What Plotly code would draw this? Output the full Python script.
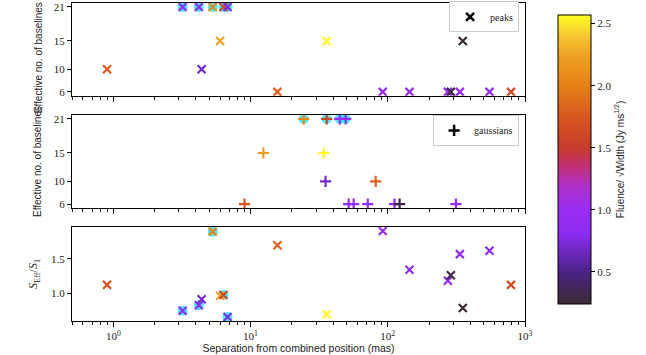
import plotly.graph_objects as go
from plotly.subplots import make_subplots

# peaks (x markers): separation (mas), effective no. of baselines, S_eff/S_1, fluence/sqrt(width)
peak_sep = [0.9, 3.2, 4.2, 4.4, 5.3, 6.0, 6.35, 6.8, 15.7, 35.9, 91.9, 144, 274, 288, 335, 352, 551, 790]
peak_nbl = [10, 21, 21, 10, 21, 15, 21, 21, 6, 15, 6, 6, 6, 6, 6, 15, 6, 6]
peak_ratio = [1.12, 0.74, 0.82, 0.91, 1.90, 0.96, 0.97, 0.65, 1.70, 0.69, 1.91, 1.34, 1.18, 1.26, 1.57, 0.78, 1.62, 1.12]
peak_flu = [1.75, 0.9, 0.9, 0.7, 2.05, 2.25, 1.6, 0.75, 1.8, 2.55, 0.95, 0.9, 0.95, 0.3, 0.9, 0.25, 0.9, 1.65]
peak_ring = [False, True, True, False, True, False, True, True, False, False, False, False, False, False, False, False, False, False]

# gaussians (+ markers)
gaus_sep = [9.04, 12.4, 24.4, 34.1, 35.2, 35.9, 44.7, 49.4, 51.9, 56.4, 71.5, 81.7, 112, 122, 314]
gaus_nbl = [6, 15, 21, 15, 10, 21, 21, 21, 6, 6, 6, 10, 6, 6, 6]
gaus_flu = [1.75, 2.2, 2.05, 2.55, 0.7, 1.6, 0.9, 0.9, 0.9, 0.9, 0.95, 1.8, 0.9, 0.3, 0.9]
gaus_ring = [False, False, True, False, False, True, True, True, False, False, False, False, False, False, False]

cscale = [
    [0.00, '#3a2c32'], [0.11, '#4b2284'], [0.24, '#8a2cf0'], [0.33, '#9a2ef2'],
    [0.41, '#b030c8'], [0.48, '#c03070'], [0.54, '#c63c2c'], [0.65, '#d85820'],
    [0.755, '#e68018'], [0.86, '#eea224'], [0.93, '#f4c830'], [1.00, '#ffff22'],
]
ring_col = 'rgba(40,235,255,0.85)'
serif = 'Liberation Serif'
sans = 'Liberation Sans'

fig = make_subplots(rows=3, cols=1, shared_xaxes=True)


def rings(sep, yv, flags, row):
    xs = [s for s, f in zip(sep, flags) if f]
    ys = [v for v, f in zip(yv, flags) if f]
    fig.add_trace(go.Scatter(x=xs, y=ys, mode='markers', showlegend=False, hoverinfo='skip',
                             marker=dict(symbol='circle', size=10, color=ring_col)), row=row, col=1)


def marks(sep, yv, flu, sym, row):
    fig.add_trace(go.Scatter(x=sep, y=yv, mode='markers', showlegend=False,
                             marker=dict(symbol=sym, size=8, color='rgba(0,0,0,0)',
                                         line=dict(width=2.2, color=flu, coloraxis='coloraxis'))),
                  row=row, col=1)


rings(peak_sep, peak_nbl, peak_ring, 1)
marks(peak_sep, peak_nbl, peak_flu, 'x-thin', 1)
rings(gaus_sep, gaus_nbl, gaus_ring, 2)
marks(gaus_sep, gaus_nbl, gaus_flu, 'cross-thin', 2)
rings(peak_sep, peak_ratio, peak_ring, 3)
marks(peak_sep, peak_ratio, peak_flu, 'x-thin', 3)

# legend entries
fig.add_trace(go.Scatter(x=[None], y=[None], mode='markers', name='peaks', legend='legend',
                         marker=dict(symbol='x-thin', size=8, line=dict(width=2.5, color='black'))), row=1, col=1)
fig.add_trace(go.Scatter(x=[None], y=[None], mode='markers', name='gaussians', legend='legend2',
                         marker=dict(symbol='cross-thin', size=8, line=dict(width=2.5, color='black'))), row=2, col=1)

minor_vals = [m * 10 ** e for e in range(-1, 3) for m in range(2, 10) if 0.5 <= m * 10 ** e <= 1000]
xcommon = dict(type='log', range=[-0.30103, 3.0], showgrid=False, zeroline=False,
               showline=True, linecolor='black', linewidth=1, mirror=True,
               ticks='outside', ticklen=5, tickcolor='black',
               tickvals=[1, 10, 100, 1000],
               minor=dict(tickvals=minor_vals, ticks='outside', ticklen=3, tickcolor='black'),
               tickfont=dict(family=serif, size=11, color='#222'))
ycommon = dict(showgrid=False, zeroline=False, showline=True, linecolor='black', linewidth=1,
               mirror=True, ticks='outside', ticklen=4, tickcolor='black',
               tickfont=dict(family=serif, size=11, color='#222'))

fig.update_xaxes(**xcommon)
fig.update_xaxes(showticklabels=False, row=1, col=1)
fig.update_xaxes(showticklabels=False, row=2, col=1)
fig.update_xaxes(ticktext=['10<sup>0</sup>', '10<sup>1</sup>', '10<sup>2</sup>', '10<sup>3</sup>'],
                 showticklabels=True,
                 title=dict(text='Separation from combined position (mas)', standoff=2,
                            font=dict(family=sans, size=10.5, color='#222')), row=3, col=1)

fig.update_yaxes(**ycommon)
fig.update_yaxes(range=[5.3, 21.7], tickvals=[6, 10, 15, 21], domain=[0.708, 1.0], row=1, col=1)
fig.update_yaxes(range=[5.3, 21.7], tickvals=[6, 10, 15, 21], domain=[0.355, 0.648],
                 title=dict(text='Effective no. of baselines', standoff=10,
                            font=dict(family=sans, size=10, color='#222')), row=2, col=1)
fig.update_yaxes(range=[0.59, 1.97], tickvals=[1.0, 1.5], ticktext=['1.0', '1.5'], domain=[0.0, 0.296],
                 title=dict(text='<i>S</i><sub>Eff</sub>/<i>S</i><sub>1</sub>', standoff=10,
                            font=dict(family=serif, size=12, color='#222')), row=3, col=1)

# top panel's y title: the panel is shorter than the text, so pin it to the figure top
fig.add_annotation(text='Effective no. of baselines', textangle=-90, showarrow=False,
                   xref='paper', yref='paper', x=-0.0735, y=1.0094, xanchor='center', yanchor='top',
                   font=dict(family=sans, size=10, color='#222'))

legend_box = dict(bgcolor='white', bordercolor='#cccccc', borderwidth=1,
                  font=dict(family=serif, size=10, color='#222'),
                  xanchor='right', yanchor='top', itemwidth=30, tracegroupgap=0)
fig.update_layout(
    width=646, height=355,
    margin=dict(l=72, r=121, t=3, b=34, autoexpand=False),
    paper_bgcolor='white', plot_bgcolor='white',
    showlegend=True,
    legend=dict(x=0.987, y=1.005, **legend_box),
    legend2=dict(x=0.987, y=0.648, **legend_box),
    coloraxis=dict(
        colorscale=cscale, cmin=0.24, cmax=2.57,
        colorbar=dict(x=1.073, xanchor='left', y=0.508, yanchor='middle', xpad=0, ypad=0,
                      lenmode='pixels', len=289, thicknessmode='pixels', thickness=33,
                      outlinecolor='black', outlinewidth=1,
                      ticks='outside', ticklen=4, tickcolor='black',
                      tickvals=[0.5, 1.0, 1.5, 2.0, 2.5], ticktext=['0.5', '1.0', '1.5', '2.0', '2.5'],
                      tickfont=dict(family=serif, size=11, color='#222'),
                      title=dict(text='Fluence/ √Width (Jy ms<sup>1/2</sup>)', side='right',
                                 font=dict(family=sans, size=10, color='#222'))),
    ),
)

# page body has a default 8px margin; drop it so the figure sits at the window corner
fig.write_html('out.html', config={'displayModeBar': False},
               post_script="document.body.style.margin='0px';")
